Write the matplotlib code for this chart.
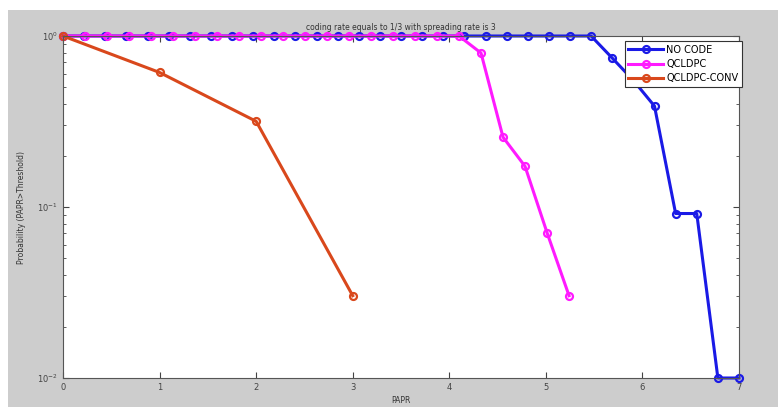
import numpy as np
import matplotlib.pyplot as plt
from matplotlib.patches import Rectangle

# PAPR thresholds for each scheme
papr_nocode = np.linspace(0, 7, 33)
papr_qcldpc = np.linspace(0, 5.24, 24)
papr_conv = np.array([0, 1, 2, 3])

# CCDF values
ccdf_nocode = np.array([1.0] * 26 + [0.743, 0.55, 0.389, 0.0916, 0.0916, 0.01, 0.01])
ccdf_qcldpc = np.array([1.0] * 19 + [0.795, 0.256, 0.173, 0.0708, 0.0303])
ccdf_conv = np.array([1.0, 0.612, 0.317, 0.0303])

labels = ['NO CODE', 'QCLDPC', 'QCLDPC-CONV']
colors = ['#1a1ae6', '#ff1aff', '#d9481c']

fig = plt.figure(figsize=(7.78, 4.07), dpi=100)
fig.patch.set_facecolor('white')
# gray window background of the screenshot
fig.patches.append(Rectangle((8 / 778, 0), 1, (407 - 10) / 407, transform=fig.transFigure,
                             facecolor='#cdcdcd', edgecolor='none', zorder=-10))

ax = fig.add_axes([63 / 778, (407 - 378) / 407, (739 - 63) / 778, (378 - 36) / 407])
ax.set_facecolor('white')

for xs, ys, lab, c in zip([papr_nocode, papr_qcldpc, papr_conv],
                          [ccdf_nocode, ccdf_qcldpc, ccdf_conv], labels, colors):
    ax.plot(xs, ys, '-o', color=c, lw=2.2, ms=5, mew=1.6, mfc='none', label=lab, clip_on=False)

ax.set_yscale('log')
ax.set_xlim(0, 7)
ax.set_ylim(0.01, 1)
ax.set_xticks(range(8))
ax.set_yticks([0.01, 0.1, 1])
ax.set_yticklabels([r'$10^{-2}$', r'$10^{-1}$', r'$10^{0}$'])
ax.tick_params(which='both', direction='in', top=True, right=True, labelsize=6, colors='#444444')
ax.tick_params(which='major', length=4)
ax.tick_params(which='minor', length=2)
for s in ax.spines.values():
    s.set_color('#555555')

ax.set_title('coding rate equals to 1/3 with spreading rate is 3', fontsize=5.5, color='#333333', pad=4)
ax.set_xlabel('PAPR', fontsize=5.5, color='#333333', labelpad=3)
ax.set_ylabel('Probability (PAPR>Threshold)', fontsize=5.5, color='#333333', labelpad=8)

leg = ax.legend(loc='upper right', bbox_to_anchor=(1.004, 0.985), fontsize=7, frameon=True,
                fancybox=False, framealpha=1, borderaxespad=0, handlelength=3.6,
                borderpad=0.35, labelspacing=0.45, handletextpad=0.3)
leg.get_frame().set_edgecolor('#333333')
leg.get_frame().set_linewidth(0.8)

fig.savefig('out.png', dpi=100)
